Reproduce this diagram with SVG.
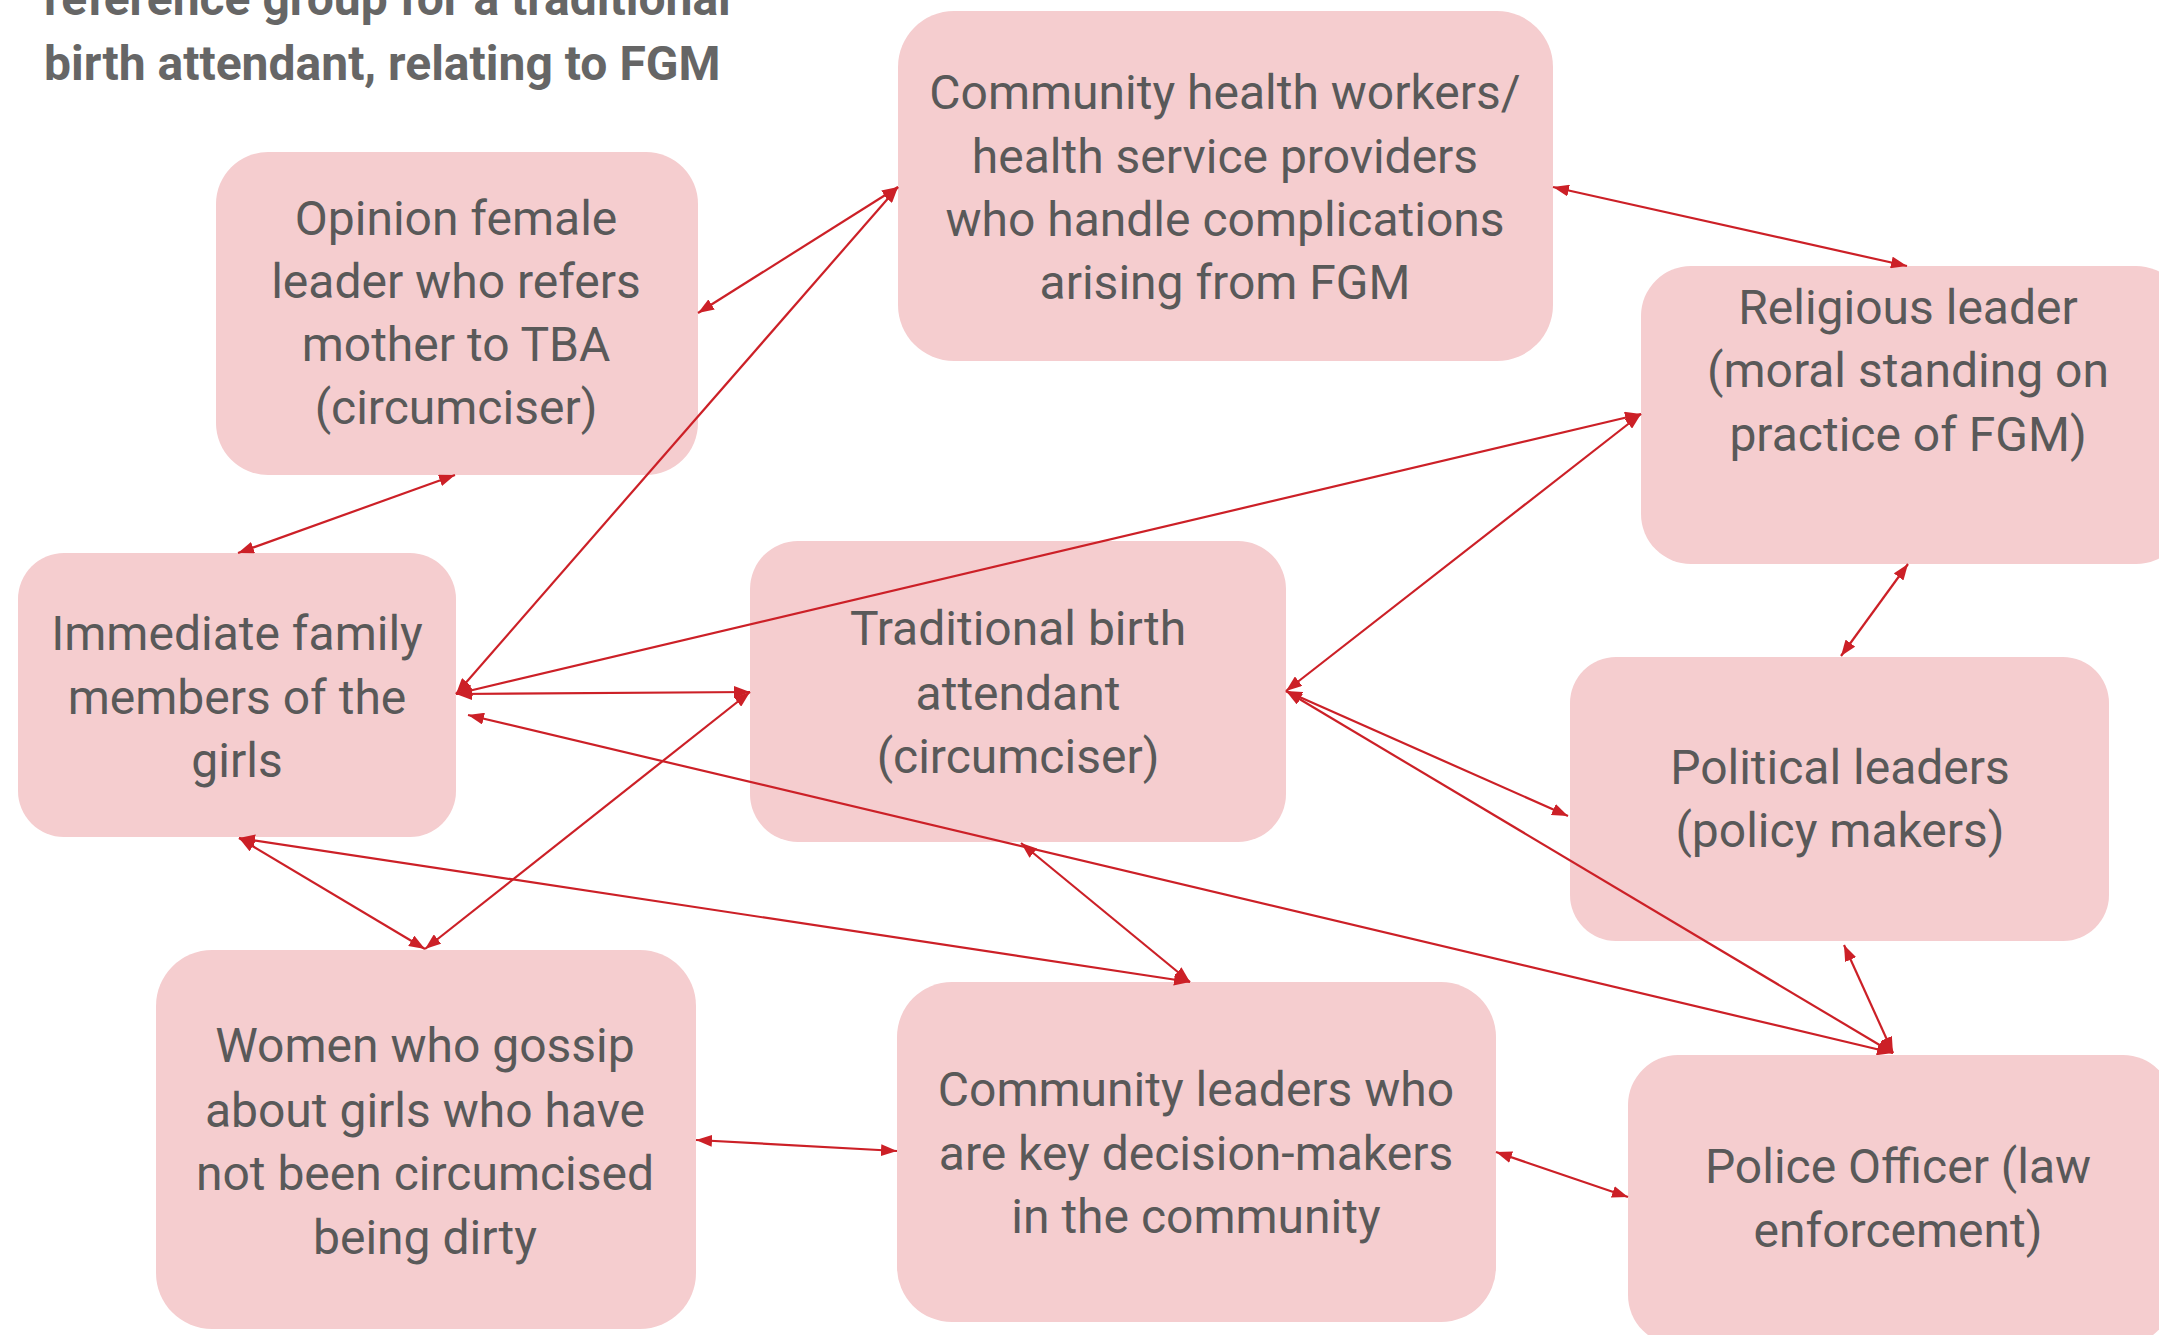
<svg xmlns="http://www.w3.org/2000/svg" width="2159" height="1335" viewBox="0 0 2159 1335">
<style>
.box{fill:#f5cdcf}
.lbl{font-family:Roboto,"Liberation Sans",sans-serif;font-size:48px;fill:#595959;text-anchor:middle}
.title{font-family:Roboto,"Liberation Sans",sans-serif;font-size:48px;font-weight:bold;fill:#666666}
.c{stroke:#cc2027;stroke-width:2.2;fill:none;marker-start:url(#ah);marker-end:url(#ah)}
</style>
<defs>
<marker id="ah" markerUnits="userSpaceOnUse" markerWidth="16" markerHeight="12" viewBox="0 0 16 12" refX="16" refY="6" orient="auto-start-reverse">
<path d="M0,0 L16,6 L0,12 z" fill="#cc2027"/>
</marker>
</defs>
<rect width="2159" height="1335" fill="#ffffff"/>
<g id="title">
<text class="title" x="44" y="15">reference group for a traditional</text>
<text class="title" x="44" y="80">birth attendant, relating to FGM</text>
</g>
<g id="n-opinion">
<rect class="box" x="216" y="152" width="482" height="323" rx="52"/>
<text class="lbl"><tspan x="456" y="235">Opinion female</tspan><tspan x="456" y="298">leader who refers</tspan><tspan x="456" y="361">mother to TBA</tspan><tspan x="456" y="424">(circumciser)</tspan></text>
</g>
<g id="n-chw">
<rect class="box" x="898" y="11" width="655" height="350" rx="56"/>
<text class="lbl"><tspan x="1225" y="109">Community health workers/</tspan><tspan x="1225" y="173">health service providers</tspan><tspan x="1225" y="236">who handle complications</tspan><tspan x="1225" y="299">arising from FGM</tspan></text>
</g>
<g id="n-religious">
<rect class="box" x="1641" y="266" width="545" height="298" rx="50"/>
<text class="lbl"><tspan x="1908" y="324">Religious leader</tspan><tspan x="1908" y="387">(moral standing on</tspan><tspan x="1908" y="451">practice of FGM)</tspan></text>
</g>
<g id="n-family">
<rect class="box" x="18" y="553" width="438" height="284" rx="46"/>
<text class="lbl"><tspan x="237" y="650">Immediate family</tspan><tspan x="237" y="714">members of the</tspan><tspan x="237" y="777">girls</tspan></text>
</g>
<g id="n-tba">
<rect class="box" x="750" y="541" width="536" height="301" rx="48"/>
<text class="lbl"><tspan x="1018" y="645">Traditional birth</tspan><tspan x="1018" y="710">attendant</tspan><tspan x="1018" y="773">(circumciser)</tspan></text>
</g>
<g id="n-political">
<rect class="box" x="1570" y="657" width="539" height="284" rx="46"/>
<text class="lbl"><tspan x="1840" y="784">Political leaders</tspan><tspan x="1840" y="847">(policy makers)</tspan></text>
</g>
<g id="n-women">
<rect class="box" x="156" y="950" width="540" height="379" rx="56"/>
<text class="lbl"><tspan x="425" y="1062">Women who gossip</tspan><tspan x="425" y="1127">about girls who have</tspan><tspan x="425" y="1190">not been circumcised</tspan><tspan x="425" y="1254">being dirty</tspan></text>
</g>
<g id="n-community">
<rect class="box" x="897" y="982" width="599" height="340" rx="55"/>
<text class="lbl"><tspan x="1196" y="1106">Community leaders who</tspan><tspan x="1196" y="1170">are key decision-makers</tspan><tspan x="1196" y="1233">in the community</tspan></text>
</g>
<g id="n-police">
<rect class="box" x="1628" y="1055" width="545" height="290" rx="50"/>
<text class="lbl"><tspan x="1898" y="1183">Police Officer (law</tspan><tspan x="1898" y="1247">enforcement)</tspan></text>
</g>
<g id="connectors">
<line class="c" x1="698" y1="313" x2="898" y2="187"/>
<line class="c" x1="455" y1="475" x2="238" y2="553"/>
<line class="c" x1="898" y1="187" x2="456" y2="694"/>
<line class="c" x1="1553" y1="187" x2="1907" y2="266"/>
<line class="c" x1="1641" y1="414" x2="456" y2="694"/>
<line class="c" x1="1641" y1="414" x2="1286" y2="691"/>
<line class="c" x1="456" y1="694" x2="750" y2="692"/>
<line class="c" x1="750" y1="692" x2="425" y2="949"/>
<line class="c" x1="239" y1="838" x2="425" y2="949"/>
<line class="c" x1="239" y1="838" x2="1190" y2="982"/>
<line class="c" x1="468" y1="715" x2="1893" y2="1053"/>
<line class="c" x1="1021" y1="843" x2="1190" y2="982"/>
<line class="c" x1="1286" y1="691" x2="1568" y2="816"/>
<line class="c" x1="1286" y1="691" x2="1893" y2="1053"/>
<line class="c" x1="1844" y1="945" x2="1893" y2="1053"/>
<line class="c" x1="1908" y1="564" x2="1841" y2="656"/>
<line class="c" x1="696" y1="1140" x2="897" y2="1151"/>
<line class="c" x1="1496" y1="1152" x2="1628" y2="1197"/>
</g>
</svg>
